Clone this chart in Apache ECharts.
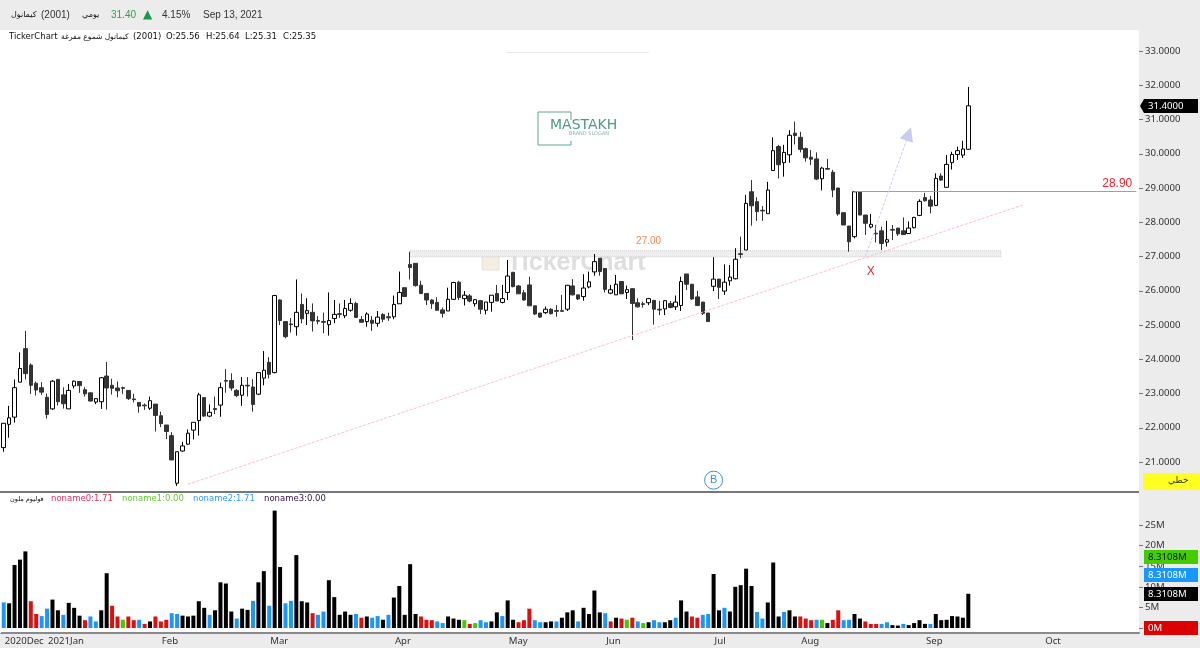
<!DOCTYPE html>
<html>
<head>
<meta charset="utf-8">
<title>2001</title>
<style>
html, body { margin: 0; padding: 0; background: #ececec; }
#chart { width: 1200px; height: 648px; }
</style>
<script src="https://cdn.jsdelivr.net/npm/echarts@6/dist/echarts.min.js"></script>
</head>
<body>
<div id="chart"></div>
<script>
// month ticks on the time axis, index = trading day
var monthLabels = ['2020Dec', '2021Jan', 'Feb', 'Mar', 'Apr', 'May', 'Jun', 'Jul', 'Aug', 'Sep', 'Oct'];
var monthStarts = [0, 8, 29, 49, 72, 93, 111, 131, 147, 170, 192];
var slotCount = 210;

var priceTicks = [21, 22, 23, 24, 25, 26, 27, 28, 29, 30, 31, 32, 33];
var volumeTicks = [0, 5, 10, 15, 20, 25];

var opens = [
  21.42, 22.10, 22.31, 23.33, 24.31, 23.83, 23.30, 23.17, 22.89, 22.55,
  23.41, 22.96, 22.55, 23.22, 23.35, 23.11, 23.02, 22.75, 22.76, 23.51,
  23.24, 23.16, 23.17, 23.09, 22.84, 22.74, 22.66, 22.57, 22.69, 22.35,
  22.08, 21.77, 20.38, 21.32, 21.52, 21.93, 22.21, 22.88, 22.34, 22.56,
  22.66, 23.38, 23.38, 23.09, 22.95, 23.24, 23.19, 22.98, 23.45, 23.91,
  23.61, 25.73, 25.10, 25.03, 24.95, 25.60, 25.34, 25.37, 25.13, 25.10,
  25.01, 25.19, 25.33, 25.27, 25.43, 25.63, 25.16, 25.10, 25.14, 25.05,
  25.31, 25.24, 25.24, 25.62, 26.09, 26.77, 26.80, 26.16, 25.92, 25.73,
  25.66, 25.44, 25.41, 25.75, 26.25, 25.77, 25.85, 25.62, 25.71, 25.43,
  25.66, 25.92, 25.66, 25.95, 26.54, 26.14, 25.94, 26.17, 25.56, 25.35,
  25.36, 25.46, 25.42, 25.42, 25.46, 26.14, 25.88, 25.83, 26.11, 26.55,
  26.95, 26.65, 25.93, 25.88, 26.27, 25.95, 26.06, 25.65, 25.62, 25.65,
  25.72, 25.46, 25.47, 25.63, 25.53, 25.57, 26.49, 26.19, 25.82, 25.67,
  25.35, 26.13, 26.34, 25.99, 26.29, 26.35, 27.08, 27.19, 28.89, 28.60,
  28.35, 28.25, 29.51, 30.21, 29.74, 29.97, 30.60, 30.48, 30.15, 29.90,
  29.85, 29.27, 29.57, 29.46, 29.00, 28.28, 27.89, 27.58, 28.89, 28.21,
  27.86, 27.68, 27.75, 27.42, 27.79, 27.83, 27.75, 27.67, 27.84, 28.20,
  28.72, 28.65, 28.49, 29.35, 29.02, 29.74, 29.98, 29.96, 30.13
];
var closes = [
  22.13, 22.29, 23.17, 23.73, 23.58, 23.24, 23.10, 23.04, 22.39, 23.36,
  22.76, 22.70, 23.09, 23.36, 23.23, 22.99, 22.78, 22.85, 23.46, 23.16,
  23.15, 23.08, 23.15, 22.85, 22.82, 22.63, 22.64, 22.79, 22.36, 22.12,
  21.89, 21.06, 21.30, 21.47, 21.84, 22.16, 22.96, 22.34, 22.45, 22.53,
  23.17, 23.36, 23.16, 22.94, 23.24, 23.22, 22.68, 23.61, 23.68, 23.56,
  25.86, 25.13, 24.66, 25.01, 25.37, 25.18, 25.42, 25.12, 25.11, 25.08,
  25.13, 25.31, 25.31, 25.48, 25.63, 25.22, 25.08, 25.32, 25.05, 25.23,
  25.17, 25.21, 25.60, 25.95, 25.83, 26.68, 26.15, 25.92, 25.73, 25.62,
  25.43, 25.34, 25.75, 26.24, 25.80, 25.87, 25.70, 25.74, 25.46, 25.67,
  25.87, 25.70, 25.77, 26.43, 26.12, 25.91, 25.73, 25.56, 25.32, 25.23,
  25.46, 25.33, 25.40, 25.40, 26.16, 25.88, 25.76, 26.08, 26.26, 26.85,
  26.56, 26.04, 26.03, 26.19, 25.91, 26.03, 25.63, 25.53, 25.60, 25.77,
  25.46, 25.44, 25.71, 25.51, 25.67, 26.27, 26.19, 25.76, 25.57, 25.34,
  25.10, 26.34, 26.10, 26.25, 26.40, 26.92, 27.06, 28.55, 28.48, 28.31,
  28.33, 28.94, 30.09, 29.68, 30.04, 30.54, 30.53, 30.13, 29.88, 29.84,
  29.26, 29.58, 29.55, 28.94, 28.24, 27.92, 27.43, 28.89, 28.21, 27.97,
  27.94, 27.66, 27.38, 27.49, 27.77, 27.66, 27.64, 27.83, 28.14, 28.61,
  28.63, 28.47, 29.28, 29.23, 29.69, 29.98, 30.09, 30.14, 31.40
];
var highs = [
  22.13, 22.64, 23.41, 24.20, 24.83, 23.88, 23.35, 23.33, 23.00, 23.39,
  23.43, 23.18, 23.28, 23.38, 23.35, 23.18, 23.02, 22.86, 23.48, 23.92,
  23.43, 23.35, 23.20, 23.09, 22.99, 22.74, 22.71, 22.91, 22.69, 22.47,
  22.08, 21.87, 21.30, 21.59, 21.95, 22.16, 23.02, 22.88, 22.68, 22.91,
  23.32, 23.71, 23.59, 23.13, 23.48, 23.48, 23.42, 23.61, 24.24, 24.06,
  25.88, 25.75, 25.10, 25.20, 26.33, 25.92, 25.78, 25.63, 25.26, 25.36,
  25.95, 25.73, 25.63, 25.73, 25.78, 25.68, 25.26, 25.37, 25.26, 25.41,
  25.34, 25.36, 25.86, 26.56, 26.09, 27.14, 26.80, 26.29, 25.92, 25.75,
  25.81, 25.51, 26.09, 26.26, 26.29, 25.99, 25.90, 25.76, 25.73, 25.67,
  25.87, 26.17, 26.17, 26.90, 26.54, 26.17, 26.02, 26.41, 25.56, 25.35,
  25.54, 25.49, 25.58, 25.88, 26.17, 26.34, 25.88, 26.48, 26.56, 27.07,
  26.95, 26.65, 26.17, 26.46, 26.27, 26.15, 26.08, 25.78, 25.68, 25.79,
  25.72, 25.70, 25.73, 25.70, 25.86, 26.41, 26.49, 26.19, 26.00, 25.67,
  25.35, 26.98, 26.34, 26.77, 26.75, 27.24, 27.58, 28.80, 29.23, 28.73,
  28.47, 29.18, 30.48, 30.26, 30.26, 30.69, 30.94, 30.64, 30.18, 30.11,
  30.04, 29.62, 29.85, 29.53, 29.00, 28.28, 27.89, 28.89, 28.89, 28.21,
  28.24, 27.92, 27.87, 28.04, 27.92, 27.83, 28.14, 28.02, 28.16, 28.67,
  28.86, 28.77, 29.43, 29.43, 29.96, 30.06, 30.21, 30.38, 31.95
];
var lows = [
  21.30, 21.71, 22.15, 23.33, 23.41, 22.99, 22.94, 22.96, 22.27, 22.52,
  22.65, 22.56, 22.55, 23.15, 23.02, 22.91, 22.77, 22.69, 22.55, 22.53,
  22.97, 22.89, 22.99, 22.81, 22.74, 22.44, 22.52, 22.52, 21.89, 22.02,
  21.67, 21.06, 20.30, 21.30, 21.50, 21.66, 21.77, 22.32, 22.31, 22.40,
  22.32, 23.02, 23.08, 22.89, 22.64, 22.91, 22.47, 22.96, 23.24, 23.44,
  23.59, 25.00, 24.61, 24.78, 24.69, 25.05, 25.00, 24.81, 25.02, 24.76,
  24.69, 25.05, 25.21, 25.20, 25.39, 25.22, 25.08, 24.95, 24.83, 24.95,
  25.08, 25.12, 25.17, 25.62, 25.83, 26.33, 26.12, 25.90, 25.58, 25.47,
  25.42, 25.22, 25.41, 25.73, 25.73, 25.57, 25.66, 25.54, 25.32, 25.31,
  25.39, 25.70, 25.63, 25.73, 26.10, 25.91, 25.71, 25.56, 25.29, 25.21,
  25.32, 25.31, 25.24, 25.38, 25.41, 25.86, 25.73, 25.71, 26.07, 26.44,
  26.44, 25.95, 25.90, 25.88, 25.91, 25.76, 24.56, 25.51, 25.51, 25.58,
  25.01, 25.29, 25.29, 25.49, 25.44, 25.41, 26.02, 25.73, 25.56, 25.29,
  25.10, 25.99, 25.76, 25.88, 26.15, 26.33, 26.95, 27.19, 27.90, 28.04,
  28.04, 28.25, 29.51, 29.28, 29.33, 29.74, 30.27, 30.04, 29.77, 29.67,
  29.23, 28.93, 29.54, 28.73, 28.19, 27.92, 27.14, 27.53, 28.21, 27.63,
  27.82, 27.41, 27.19, 27.29, 27.48, 27.60, 27.63, 27.66, 27.82, 28.18,
  28.60, 28.26, 28.47, 29.21, 29.02, 29.54, 29.82, 29.88, 30.12
];

// volume in millions
var volumes = [
  6.2, 6.0, 15.3, 16.6, 18.6, 6.5, 3.4, 2.9, 4.7, 6.9,
  4.3, 3.2, 6.1, 4.9, 3.0, 1.9, 2.8, 1.6, 4.3, 13.3,
  5.4, 2.8, 2.0, 2.8, 1.9, 2.0, 1.0, 1.6, 2.8, 1.6,
  2.0, 3.6, 3.4, 3.0, 2.8, 3.0, 6.5, 4.9, 3.2, 4.3,
  11.1, 10.8, 4.0, 2.3, 4.7, 4.4, 6.6, 11.1, 13.8, 5.4,
  28.5, 14.8, 6.0, 6.6, 17.7, 6.5, 6.2, 3.6, 3.2, 4.0,
  11.6, 7.5, 3.2, 4.0, 3.2, 3.4, 2.5, 2.8, 2.5, 2.9,
  2.0, 3.2, 7.4, 10.2, 3.2, 15.5, 3.4, 2.8, 2.0, 1.9,
  1.6, 1.2, 2.8, 2.3, 2.0, 1.9, 1.0, 1.2, 1.9, 1.4,
  1.6, 3.8, 2.9, 6.7, 2.0, 1.4, 1.9, 4.7, 1.9, 1.4,
  1.4, 1.6, 1.6, 2.5, 3.8, 4.3, 1.6, 4.9, 3.4, 9.1,
  3.8, 3.6, 1.6, 2.5, 2.3, 2.0, 2.5, 1.6, 1.2, 1.4,
  1.9, 1.4, 1.4, 1.9, 2.5, 6.7, 4.0, 2.8, 2.5, 3.2,
  3.4, 13.1, 4.3, 4.9, 4.0, 10.0, 10.4, 14.4, 10.2, 3.9,
  2.3, 6.2, 15.9, 2.8, 3.9, 4.3, 2.8, 2.8, 2.3, 1.9,
  2.0, 2.0, 1.2, 2.0, 4.3, 1.9, 2.0, 3.4, 2.3, 1.6,
  1.0, 1.0, 1.0, 1.4, 0.7, 0.6, 1.0, 0.7, 1.2, 1.9,
  1.0, 1.0, 3.4, 1.9, 2.0, 2.9, 2.8, 2.5, 8.31
];
// r, g, b, k = the four volume colours, one letter per day
var volumeKinds = (
  'bkkkkrrbbk' + 'kbkkkrbbkk' + 'rrgrrbrkrr' + 'rbbkkkkkbk' +
  'kkkbkkbkkb' + 'kkbbkkkrbb' + 'kkkkkbrkbb' + 'kbkk' +
  'kkkrrrbbkk' + 'kgrgbbkkbk' + 'krrrbbkkbk' + 'kkbkkkkbrk' +
  'rgrbgkbbkk' + 'bkkrrbbkkb' + 'kkkkkbbkkk' + 'bkk' +
  'rrrbgkrrbb' + 'kkrrrbbkkb' + 'kkkkbkkkkk' + 'kk'
).split('');

var categories = [];
for (var i = 0; i < slotCount; i++) {
  var m = monthStarts.indexOf(i);
  categories.push(m >= 0 ? monthLabels[m] : '');
}

var candleData = opens.map(function (o, i) {
  return [o, closes[i], lows[i], highs[i]];
});

function volumeOf(kind) {
  return volumes.map(function (v, i) {
    return volumeKinds[i] === kind ? v : null;
  });
}

function volumeSeries(name, kind, color) {
  return {
    name: name,
    type: 'bar',
    xAxisIndex: 1,
    yAxisIndex: 1,
    stack: 'vol',
    barWidth: 4,
    itemStyle: { color: color },
    data: volumeOf(kind)
  };
}

function tag(x, y, w, h, color) {
  return { type: 'rect', z: 100, shape: { x: x, y: y, width: w, height: h }, style: { fill: color } };
}

function txt(x, y, text, font, fill, z) {
  return {
    type: 'text',
    z: z || 110,
    style: { x: x, y: y, text: text, font: font, fill: fill, verticalAlign: 'middle' }
  };
}

var headFont = '10px "Liberation Sans"';
var arFont = '8px "DejaVu Sans"';
var infoFont = '8.5px "DejaVu Sans"';
var tagFont = '9.6px "Noto Sans"';

var graphics = [
  // header strip
  tag(0, 0, 1200, 30, '#ececec'),
  // left edge of the panes, the grids start half a slot in
  tag(0, 30, 1, 603, '#ffffff'),
  txt(11, 15, 'كيمانول', arFont, '#111'),
  txt(41, 15, '(2001)', headFont, '#333'),
  txt(82, 15, 'يومي', arFont, '#111'),
  txt(111, 15, '31.40', headFont, '#2f9e44'),
  txt(143, 15, '▲', '12px "DejaVu Sans"', '#149c4a'),
  txt(162, 15, '4.15%', headFont, '#333'),
  txt(203, 15, 'Sep 13, 2021', headFont, '#333'),

  // chart title row
  txt(9, 37, 'TickerChart', infoFont, '#111'),
  txt(61, 37, 'كيمانول شموع مفرغة', '7.5px "DejaVu Sans"', '#111'),
  txt(133, 37, '(2001)', infoFont, '#111'),
  txt(166, 37, 'O:25.56', infoFont, '#111'),
  txt(206, 37, 'H:25.64', infoFont, '#111'),
  txt(245, 37, 'L:25.31', infoFont, '#111'),
  txt(283, 37, 'C:25.35', infoFont, '#111'),

  // logo
  { type: 'rect', z: 1, shape: { x: 506, y: 52, width: 143, height: 1 }, style: { fill: '#e8e8e8' } },
  {
    type: 'polyline', z: 1,
    shape: { points: [[571, 120], [571, 112], [538, 112], [538, 145], [571, 145], [571, 141]] },
    style: { stroke: '#5fa88c', fill: null, lineWidth: 1 }
  },
  txt(550, 125, 'MASTAKH', '14px "DejaVu Sans"', '#4f9a80', 1),
  txt(569, 134, 'BRAND SLOGAN', '5px "DejaVu Sans"', '#8ab8a6', 1),

  // watermark
  { type: 'rect', z: 1, shape: { x: 482, y: 253, width: 17, height: 17 }, style: { fill: '#f5eee0', stroke: '#e2e2e2', lineWidth: 1 } },
  txt(507, 263, 'TickerChart', 'bold 25px "Liberation Sans"', 'rgba(190,190,190,0.5)', 1),

  // pane separator
  tag(0, 491, 1139, 2, '#777777'),

  // volume legend
  txt(10, 499, 'فوليوم ملون', '6.5px "DejaVu Sans"', '#111'),
  txt(51, 499, 'noname0:1.71', infoFont, '#e0305a'),
  txt(122, 499, 'noname1:0.00', infoFont, '#66cc33'),
  txt(193, 499, 'noname2:1.71', infoFont, '#3399ff'),
  txt(264, 499, 'noname3:0.00', infoFont, '#331144'),

  // price tag with arrow
  {
    type: 'polygon', z: 100,
    shape: { points: [[1140, 106], [1144, 99], [1198, 99], [1198, 113], [1144, 113]] },
    style: { fill: '#000' }
  },
  txt(1148, 106, '31.4000', tagFont, '#fff'),

  // line type button
  tag(1143, 473, 57, 17, '#ffff22'),
  txt(1168, 481, 'خطي', '9px "DejaVu Sans"', '#333'),

  // volume tags
  tag(1144, 550, 54, 14, '#44cc00'),
  txt(1148, 557, '8.3108M', tagFont, '#111'),
  tag(1144, 568, 54, 14, '#1a96ff'),
  txt(1148, 575, '8.3108M', tagFont, '#fff'),
  tag(1144, 587, 54, 14, '#000000'),
  txt(1148, 594, '8.3108M', tagFont, '#fff'),
  tag(1144, 621, 54, 14, '#dd0000'),
  txt(1148, 628, '0M', tagFont, '#fff')
];

var chart = echarts.init(document.getElementById('chart'));

var axisText = { color: '#333', fontFamily: 'Noto Sans', fontSize: 9.6, margin: 6, align: 'left' };

var option = {
  animation: false,
  backgroundColor: '#ececec',
  grid: [
    { left: 1, width: 1138, top: 16.75, height: 479.5, show: true, backgroundColor: '#fff', borderWidth: 0 },
    { left: 1, width: 1138, top: 493, height: 140, show: true, backgroundColor: '#fff', borderWidth: 0 }
  ],
  xAxis: [
    { type: 'category', gridIndex: 0, data: categories, show: false },
    {
      type: 'category',
      gridIndex: 1,
      data: categories,
      axisLine: { onZero: false, lineStyle: { color: '#8a8a8a', width: 2 } },
      axisTick: {
        alignWithLabel: true,
        inside: true,
        length: 4,
        lineStyle: { color: '#999' },
        interval: function (index, value) { return value !== ''; }
      },
      axisLabel: {
        color: '#333',
        fontFamily: 'Noto Sans',
        fontSize: 9.6,
        align: 'left',
        margin: 3,
        padding: [0, 0, 0, 1],
        interval: function (index, value) { return value !== ''; }
      }
    }
  ],
  yAxis: [
    {
      type: 'value',
      gridIndex: 0,
      position: 'right',
      min: 20,
      max: 34,
      splitLine: { show: false },
      axisLine: { show: false },
      axisTick: { show: true, length: 4, lineStyle: { color: '#777' }, customValues: priceTicks },
      axisLabel: Object.assign({}, axisText, {
        customValues: priceTicks,
        formatter: function (v) { return v.toFixed(4); }
      })
    },
    {
      type: 'value',
      gridIndex: 1,
      position: 'right',
      min: -1.21,
      max: 32.77,
      splitLine: { show: false },
      axisLine: { show: false },
      axisTick: { show: true, length: 4, lineStyle: { color: '#777' }, customValues: volumeTicks },
      axisLabel: Object.assign({}, axisText, {
        customValues: volumeTicks,
        formatter: function (v) { return v + 'M'; }
      })
    }
  ],
  series: [
    {
      name: 'candles',
      type: 'candlestick',
      xAxisIndex: 0,
      yAxisIndex: 0,
      barWidth: 4,
      itemStyle: { color: '#fff', color0: '#333', borderColor: '#000', borderColor0: '#333', borderWidth: 1 },
      data: candleData,
      markArea: {
        silent: true,
        itemStyle: { color: '#eeeeee', borderColor: '#cccccc', borderWidth: 1, borderType: 'dotted' },
        data: [[{ coord: [75, 27.17] }, { coord: [184, 26.99] }]]
      },
      markLine: {
        silent: true,
        animation: false,
        symbol: 'none',
        label: { show: false },
        data: [
          // trend line
          [
            { coord: [34, 20.35], lineStyle: { color: '#ffbcd6', width: 1, type: [3, 1.5] } },
            { coord: [188, 28.5] }
          ],
          // resistance at 28.90
          [
            { coord: [157, 28.9], lineStyle: { color: '#a0a0a0', width: 1, type: 'solid' } },
            {
              coord: [209, 28.9],
              label: { show: true, formatter: '28.90', position: 'insideEndTop', color: '#f0202e', fontSize: 12, fontFamily: 'Liberation Sans', distance: 2, padding: [0, 2, 0, 0] }
            }
          ],
          // arrow up from the X
          [
            { coord: [159, 26.99], symbol: 'none', lineStyle: { color: '#c9ccf0', width: 1, type: [3, 1.5] } },
            { coord: [167, 30.58], symbol: 'triangle', symbolSize: 14 }
          ]
        ]
      },
      markPoint: {
        silent: true,
        animation: false,
        symbolSize: 1,
        itemStyle: { color: 'transparent' },
        data: [
          {
            coord: [119, 27.42],
            label: { show: true, position: 'inside', formatter: '27.00', color: '#f58a50', fontSize: 10, fontFamily: 'Liberation Sans' }
          },
          {
            coord: [160, 26.55],
            label: { show: true, position: 'inside', formatter: 'X', color: '#ee2030', fontSize: 12, fontFamily: 'Liberation Sans' }
          },
          {
            coord: [131, 20.47],
            symbol: 'circle',
            symbolSize: 18,
            itemStyle: { color: '#fff', borderColor: '#3f8fd8', borderWidth: 1 },
            label: { show: true, position: 'inside', formatter: 'B', color: '#3f8fd8', fontSize: 11, fontFamily: 'Liberation Sans' }
          }
        ]
      }
    },
    volumeSeries('noname0', 'r', '#dd0f0f'),
    volumeSeries('noname1', 'g', '#44cc00'),
    volumeSeries('noname2', 'b', '#1a96ff'),
    volumeSeries('noname3', 'k', '#000000')
  ],
  graphic: { elements: graphics }
};

chart.setOption(option);
</script>
</body>
</html>
